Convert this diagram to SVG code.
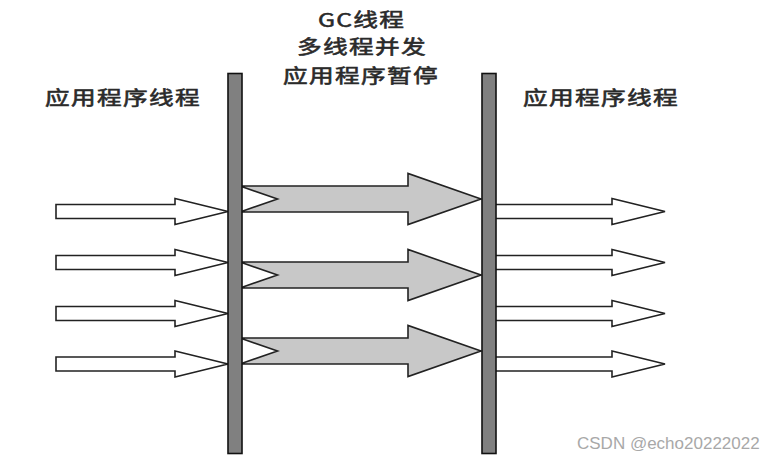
<svg xmlns="http://www.w3.org/2000/svg" xmlns:xlink="http://www.w3.org/1999/xlink" width="782" height="462" viewBox="0 0 782 462">
<style>
.lbl{font-family:"Noto Sans CJK SC","Liberation Sans",sans-serif;font-size:19px;font-weight:normal;fill:#2a2a2a;stroke:#2a2a2a;stroke-width:0.55px;letter-spacing:1px}
.wm{font-family:"Liberation Sans","Noto Sans",sans-serif;font-size:17px;fill:#a8a8a8}
.thin{fill:#fff;stroke:#222;stroke-width:1.6;stroke-linejoin:miter}
.gc{fill:#c8c8c8;stroke:#222;stroke-width:1.6;stroke-linejoin:miter}
.bar{fill:#808080;stroke:#111;stroke-width:1.6}
</style>
<defs>
<polygon id="inArrow" points="0,-7 119,-7 119,-13 172,0 119,13 119,7 0,7"/>
<polygon id="outArrow" points="0,-7 118,-7 118,-13 171,0 118,13 118,7 0,7"/>
<polygon id="gcArrow" points="0,-13 168,-13 168,-25.5 241,0 168,25.5 168,13 0,13 37.5,0"/>
</defs>
<rect width="782" height="462" fill="#fff"/>
<g id="connectors">
<use xlink:href="#inArrow" class="thin" transform="translate(56,211.5)"/>
<use xlink:href="#inArrow" class="thin" transform="translate(56,262.5)"/>
<use xlink:href="#inArrow" class="thin" transform="translate(56,313.5)"/>
<use xlink:href="#inArrow" class="thin" transform="translate(56,364)"/>
<use xlink:href="#gcArrow" class="gc" transform="translate(240,199)"/>
<use xlink:href="#gcArrow" class="gc" transform="translate(240,275)"/>
<use xlink:href="#gcArrow" class="gc" transform="translate(240,351)"/>
<use xlink:href="#outArrow" class="thin" transform="translate(494,211.5)"/>
<use xlink:href="#outArrow" class="thin" transform="translate(494,262.5)"/>
<use xlink:href="#outArrow" class="thin" transform="translate(494,313.5)"/>
<use xlink:href="#outArrow" class="thin" transform="translate(494,364)"/>
</g>
<g id="bar-left"><rect class="bar" x="228" y="73.5" width="14" height="380"/></g>
<g id="bar-right"><rect class="bar" x="482" y="73.5" width="14" height="380"/></g>
<g id="label-gc">
<text class="lbl" transform="translate(318,27) scale(1.3,1)">GC线程</text>
<text class="lbl" transform="translate(297,54) scale(1.3,1)">多线程并发</text>
<text class="lbl" transform="translate(283,83) scale(1.3,1)">应用程序暂停</text>
</g>
<g id="label-left"><text class="lbl" transform="translate(45,105) scale(1.3,1)">应用程序线程</text></g>
<g id="label-right"><text class="lbl" transform="translate(523,105) scale(1.3,1)">应用程序线程</text></g>
<text class="wm" x="577" y="449">CSDN @echo20222022</text>
</svg>
